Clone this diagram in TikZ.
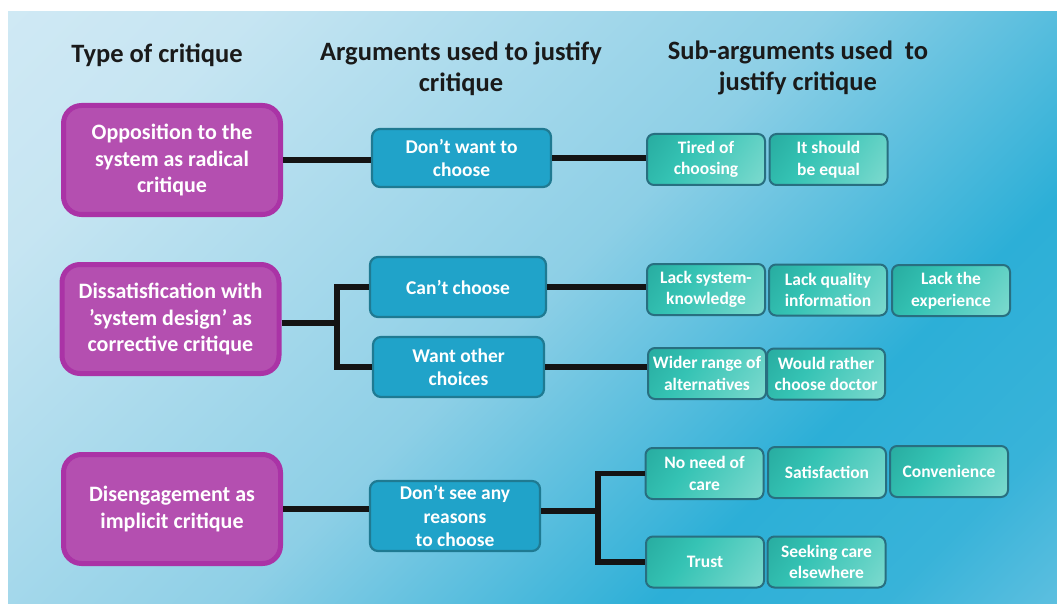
\documentclass[tikz,border=0pt]{standalone}
\usepackage{fontspec}
\setmainfont{Carlito}
\definecolor{bgA}{HTML}{DCEEF7}
\definecolor{bgB}{HTML}{C6E5F2}
\definecolor{bgC}{HTML}{8DCFE6}
\definecolor{bgD}{HTML}{2CAFD7}
\definecolor{bgE}{HTML}{38B3D9}
\definecolor{bgF}{HTML}{72C6E3}
\definecolor{bgG}{HTML}{A8DAEE}
\definecolor{tlA}{HTML}{1F9E94}
\definecolor{tlB}{HTML}{35C3B4}
\definecolor{tlC}{HTML}{96E2D8}
\definecolor{purfill}{HTML}{B44FB0}
\definecolor{purdraw}{HTML}{AA33A6}
\definecolor{bluefill}{HTML}{20A3C9}
\definecolor{bluedraw}{HTML}{1F7A92}
\definecolor{tealdraw}{HTML}{286F80}
\definecolor{hdr}{HTML}{1A1A1A}
\definecolor{lin}{HTML}{141414}
\pgfdeclarehorizontalshading{bgshade}{100bp}{color(0bp)=(bgA); color(25bp)=(bgB); color(50bp)=(bgC); color(68bp)=(bgD); color(78bp)=(bgE); color(90bp)=(bgF); color(100bp)=(bgG)}
\pgfdeclarehorizontalshading{tealshade}{100bp}{color(0bp)=(tlA); color(40bp)=(tlB); color(100bp)=(tlC)}
\tikzset{
  hdrtext/.style={text=hdr, align=center, font=\fontsize{26.5}{31}\selectfont\bfseries},
  purbox/.style={draw=purdraw, fill=purfill, line width=5pt, rounded corners=18pt,
    text=white, align=center, minimum width=217pt, minimum height=109pt, inner sep=0pt,
    font=\fontsize{22}{26.5}\selectfont\bfseries},
  bluebox/.style={draw=bluedraw, fill=bluefill, line width=2.2pt, rounded corners=8pt,
    text=white, align=center, inner sep=0pt,
    font=\fontsize{19.5}{23.5}\selectfont\bfseries},
  tealbox/.style={draw=tealdraw, shade, shading=tealshade, shading angle=-35, line width=2pt,
    rounded corners=7pt, text=white, align=center, inner sep=0pt,
    minimum width=118pt, minimum height=51pt,
    font=\fontsize{17.5}{21.5}\selectfont\bfseries},
  conn/.style={draw=lin, line width=5.5pt}
}
\begin{document}
\begin{tikzpicture}[x=1pt,y=-1pt]
\useasboundingbox (0,0) rectangle (1057,604);
\fill[white] (0,0) rectangle (1057,604);
\shade[shading=bgshade, shading angle=-45] (8,12) rectangle (1057,604);

% headers
\node[hdrtext] (h1) at (157,55) {Type of critique};
\node[hdrtext] (h2) at (461,69) {Arguments used to justify\\critique};
\node[hdrtext] (h3) at (798,68) {Sub-arguments used\ \ to\\justify critique};

% type of critique
\node[purbox] (p1) at (172,160) {Opposition to the\\system as radical\\critique};
\node[purbox] (p2) at (170.5,319) {Dissatisfication with\\’system design’ as\\corrective critique};
\node[purbox] (p3) at (172,509) {Disengagement as\\implicit critique};

% arguments
\node[bluebox, minimum width=179pt, minimum height=58pt] (b1) at (461.5,158) {Don’t want to\\choose};
\node[bluebox, minimum width=176pt, minimum height=60pt] (b2) at (458,287) {Can’t choose};
\node[bluebox, minimum width=171pt, minimum height=60pt] (b3) at (458.5,367) {Want other\\choices};
\node[bluebox, minimum width=170pt, minimum height=70pt] (b4) at (455,516) {Don’t see any\\reasons\\to choose};

% sub-arguments
\node[tealbox] (t1) at (706,159.5) {Tired of\\choosing};
\node[tealbox] (t2) at (828.5,159.5) {It should\\be equal};
\node[tealbox] (t3) at (706,289.5) {Lack system-\\knowledge};
\node[tealbox] (t4) at (828,290) {Lack quality\\information};
\node[tealbox] (t5) at (951,290.5) {Lack the\\experience};
\node[tealbox] (t6) at (707,373.5) {Wider range of\\alternatives};
\node[tealbox] (t7) at (826,374) {Would rather\\choose doctor};
\node[tealbox] (t8) at (704.5,473.5) {No need of\\care};
\node[tealbox] (t9) at (827,472.5) {Satisfaction};
\node[tealbox] (t10) at (949,471.5) {Convenience};
\node[tealbox] (t11) at (705,562) {Trust};
\node[tealbox] (t12) at (826.5,562) {Seeking care\\elsewhere};

% junctions
\coordinate (j2) at (337,323);
\coordinate (j4) at (598,511);

% connectors
\draw[conn] (p1.east) -- (p1.east -| b1.west);
\draw[conn] (b1.east) -- (b1.east -| t1.west);
\draw[conn] (p2.east |- j2) -- (j2);
\draw[conn] (b2.west) -| (j2) |- (b3.west);
\draw[conn] (b2.east) -- (b2.east -| t3.west);
\draw[conn] (b3.east) -- (b3.east -| t6.west);
\draw[conn] (p3.east) -- (p3.east -| b4.west);
\draw[conn] (b4.east |- j4) -- (j4);
\draw[conn] (t8.west) -| (j4) |- (t11.west);
\end{tikzpicture}
\end{document}
